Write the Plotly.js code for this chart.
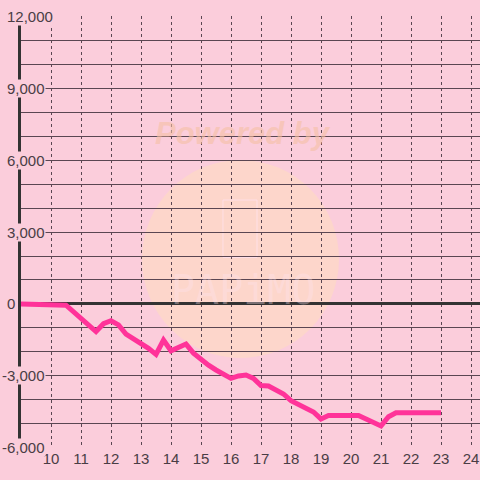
<!DOCTYPE html>
<html>
<head>
<meta charset="utf-8">
<script src="https://cdn.plot.ly/plotly-3.0.1.min.js"></script>
<style>
  html, body { margin: 0; padding: 0; background: #fbcddb; }
  #chart { width: 480px; height: 480px; }
</style>
</head>
<body>
<div id="chart"></div>
<script>
// Hour of day (x) and cumulative value (y)
const hours = [9, 10.5, 11.5, 11.75, 12, 12.25, 12.5, 12.75, 13, 13.25, 13.5, 13.75, 14, 14.25, 14.5, 14.75,
               15, 15.25, 15.5, 15.75, 16, 16.25, 16.5, 16.75, 17, 17.25, 17.5, 17.75, 18, 18.25, 18.5, 18.75,
               19, 19.25, 20.25, 21, 21.25, 21.5, 23];
const values = [0, -50, -1150, -820, -700, -870, -1250, -1450, -1600, -1850, -2100, -1500, -1950, -1820, -1670, -2050,
                -2330, -2550, -2750, -2920, -3100, -3000, -2960, -3100, -3400, -3420, -3600, -3750, -4030, -4200, -4350, -4500,
                -4790, -4650, -4650, -5080, -4700, -4530, -4530];
const xTickVals = [10, 11, 12, 13, 14, 15, 16, 17, 18, 19, 20, 21, 22, 23, 24];
const yTickVals = [-6000, -3000, 0, 3000, 6000, 9000, 12000];
const yTickText = ['-6,000', '-3,000', '0', '3,000', '6,000', '9,000', '12,000'];

const bg = '#fbcddb';
const labelColor = '#4a3d45';
const gridColor = '#5a4652';

const trace = {
  x: hours,
  y: values,
  type: 'scatter',
  mode: 'lines',
  line: { color: '#ff3399', width: 5 },
  hoverinfo: 'skip'
};

const yLabelAnnotations = yTickVals.map((v, i) => ({
  xref: 'paper', yref: 'y', x: 0, y: v,
  xanchor: 'left', yanchor: 'middle',
  xshift: v < 0 ? -20 : -15,
  text: yTickText[i],
  showarrow: false,
  bgcolor: bg,
  borderpad: 0,
  font: { family: 'Liberation Sans, Arial, sans-serif', size: 15, color: labelColor }
}));

const layout = {
  width: 480, height: 480,
  margin: { l: 21, r: 0, t: 16, b: 32 },
  paper_bgcolor: bg,
  plot_bgcolor: bg,
  showlegend: false,
  font: { family: 'Liberation Sans, Arial, sans-serif', size: 14, color: labelColor },
  xaxis: {
    range: [9, 24.3],
    tickvals: xTickVals,
    ticks: '',
    showgrid: true,
    gridcolor: gridColor,
    gridwidth: 1,
    griddash: 'dot',
    zeroline: false,
    showline: false,
    fixedrange: true,
    tickfont: { size: 15, color: labelColor }
  },
  yaxis: {
    range: [-6001, 12001],
    dtick: 1000,
    tick0: 0,
    ticks: '',
    showticklabels: false,
    showgrid: true,
    gridcolor: gridColor,
    gridwidth: 1,
    zeroline: true,
    zerolinecolor: '#333333',
    zerolinewidth: 3,
    showline: true,
    linecolor: '#333333',
    linewidth: 3,
    fixedrange: true
  },
  shapes: [
    {
      type: 'circle', xref: 'paper', yref: 'paper', layer: 'below',
      x0: 0.2636, x1: 0.6928, y0: 0.2083, y1: 0.6667,
      fillcolor: 'rgba(255,222,190,0.55)', line: { width: 0 }
    },
    {
      type: 'rect', xref: 'paper', yref: 'paper', layer: 'below',
      x0: 0.4400, x1: 0.5142, y0: 0.441, y1: 0.574,
      fillcolor: 'rgba(0,0,0,0)', line: { width: 1, color: 'rgba(255,225,238,0.8)' }
    }
  ],
  annotations: [
    {
      xref: 'paper', yref: 'paper', x: 0.4837, y: 0.729,
      xanchor: 'center', yanchor: 'middle', showarrow: false,
      text: '<b><i>Powered by</i></b>',
      font: { family: 'Liberation Sans, Arial, sans-serif', size: 31, color: 'rgba(245,192,165,0.6)' }
    },
    {
      xref: 'paper', yref: 'paper', x: 0.4837, y: 0.366,
      xanchor: 'center', yanchor: 'middle', showarrow: false,
      text: 'PAPiMO',
      font: { family: 'DejaVu Sans Mono, monospace', size: 40, color: 'rgba(255,228,240,0.35)' }
    }
  ].concat(yLabelAnnotations)
};

Plotly.newPlot('chart', [trace], layout, { displayModeBar: false, staticPlot: true });
</script>
</body>
</html>
